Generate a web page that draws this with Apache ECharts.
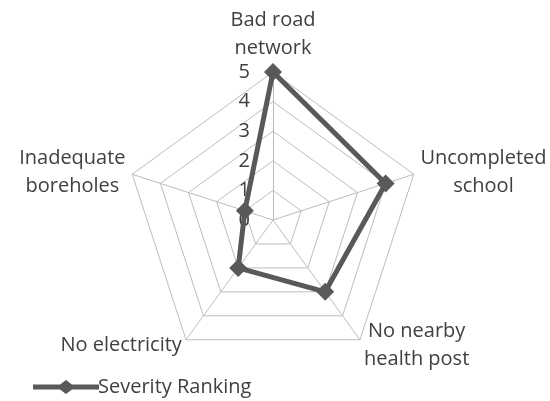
<!DOCTYPE html>
<html>
<head>
<meta charset="utf-8">
<script src="https://cdn.jsdelivr.net/npm/echarts@6/dist/echarts.min.js"></script>
<style>
  html, body { margin: 0; padding: 0; background: #fff; }
  #chart { width: 550px; height: 401px; }
</style>
</head>
<body>
<div id="chart"></div>
<script>
var categories = ['Bad road\nnetwork', 'Uncompleted\nschool', 'No nearby\nhealth post', 'No electricity', 'Inadequate\nboreholes'];
var severity = [5, 4, 3, 2, 1];
var maxValue = 5;
var seriesName = 'Severity Ranking';

// echarts lays radar axes out counter-clockwise, so keep the first one and reverse the rest
var order = [0, 4, 3, 2, 1];

var myChart = echarts.init(document.getElementById('chart'));

var indicators = order.map(function (k, i) {
    var ind = { name: categories[k], max: maxValue, min: 0 };
    // only the vertical axis carries the 0..5 tick labels
    if (i === 0) ind.axisLabel = { show: true };
    return ind;
});
var values = order.map(function (k) { return severity[k]; });

var option = {
    animation: false,
    textStyle: { fontFamily: 'Open Sans', color: '#404040' },
    legend: {
        left: 28,
        top: 372,
        itemWidth: 66,
        itemHeight: 14,
        itemGap: 4,
        icon: 'path://M0,4.5H27L33,0L39,4.5H66V9.5H39L33,14L27,9.5H0Z',
        textStyle: { fontSize: 20, color: '#404040', fontFamily: 'Open Sans', padding: [0, 0, 0, -6] },
        data: [seriesName]
    },
    radar: {
        center: [273, 220],
        radius: 148,
        startAngle: 90,
        splitNumber: 5,
        shape: 'polygon',
        indicator: indicators,
        axisName: {
            color: '#404040',
            fontSize: 20,
            fontFamily: 'Open Sans',
            lineHeight: 28,
            // centre each line of a two-line name within its block
            formatter: function (name) {
                return name.split('\n').map(function (l) { return '{c|' + l + '}'; }).join('\n');
            },
            rich: {
                c: { align: 'center', fontSize: 20, lineHeight: 28, color: '#404040', fontFamily: 'Open Sans' }
            }
        },
        nameGap: 7,
        axisLine: { lineStyle: { color: '#bcbcbc', width: 1 } },
        splitLine: { lineStyle: { color: '#bcbcbc', width: 1 } },
        splitArea: { show: false },
        axisTick: { show: false },
        axisLabel: {
            show: false,
            color: '#404040',
            fontSize: 20,
            fontFamily: 'Open Sans',
            margin: 23,
            showMinLabel: true,
            showMaxLabel: true
        }
    },
    series: [{
        name: seriesName,
        type: 'radar',
        symbol: 'diamond',
        symbolSize: 18,
        lineStyle: { color: '#595959', width: 5 },
        itemStyle: { color: '#595959' },
        data: [{ value: values, name: seriesName }]
    }]
};

myChart.setOption(option);
</script>
</body>
</html>
